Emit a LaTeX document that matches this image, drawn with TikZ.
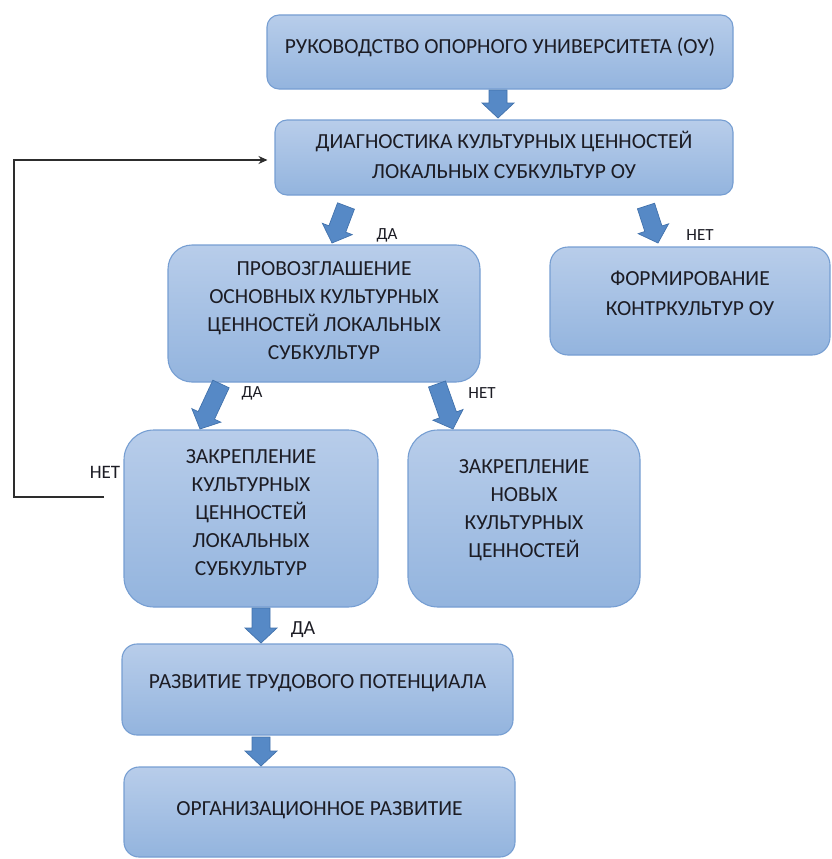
\documentclass[tikz,border=0pt]{standalone}
\usepackage{fontspec}
\setmainfont{Carlito}
\usetikzlibrary{calc,arrows.meta}
\definecolor{boxtop}{RGB}{184,205,234}
\definecolor{boxbot}{RGB}{147,180,222}
\definecolor{boxline}{RGB}{118,158,210}
\definecolor{arrfill}{RGB}{86,137,198}
\definecolor{arrline}{RGB}{66,114,172}
\definecolor{txt}{RGB}{28,28,36}
\definecolor{fbline}{RGB}{45,45,45}
\newcommand\mytxt[2]{\raisebox{#1}[\height][\depth]{\begin{tabular}{@{}c@{}}#2\end{tabular}}}
\newcommand\bluearrow[2]{%
  \coordinate (bah) at ($(#2)!15pt!(#1)$);
  \filldraw[blockarrow] ($(#1)!9pt!90:(#2)$) -- ($(bah)!9pt!-90:(#1)$) -- ($(bah)!16pt!-90:(#1)$) -- (#2) -- ($(bah)!16pt!90:(#1)$) -- ($(bah)!9pt!90:(#1)$) -- ($(#1)!9pt!-90:(#2)$) -- cycle;}
\tikzset{
  box/.style={draw=boxline, line width=1.1pt, top color=boxtop, bottom color=boxbot,
    inner sep=0pt, text=txt, font=\fontsize{21.5}{28}\selectfont},
  blockarrow/.style={fill=arrfill, draw=arrline, line width=0.7pt, line join=miter},
  lbl/.style={inner sep=0pt, text=txt, font=\fontsize{17}{20}\selectfont},
  fb/.style={draw=fbline, line width=1.3pt, -{Stealth[length=9pt,width=8pt]}}
}
\begin{document}
\begin{tikzpicture}[x=1pt,y=-1pt]
\useasboundingbox (0,0) rectangle (831,859);
% boxes
\node[box, minimum width=466pt, minimum height=74pt, rounded corners=12pt] (b1) at (500,52)
  {\mytxt{4pt}{РУКОВОДСТВО ОПОРНОГО УНИВЕРСИТЕТА (ОУ)}};
\node[box, minimum width=458pt, minimum height=75pt, rounded corners=12pt] (b2) at (504,157.5)
  {\mytxt{0pt}{ДИАГНОСТИКА КУЛЬТУРНЫХ ЦЕННОСТЕЙ\\[2pt] ЛОКАЛЬНЫХ СУБКУЛЬТУР ОУ}};
\node[box, minimum width=312pt, minimum height=137pt, rounded corners=24pt] (b3) at (324,313.5)
  {\mytxt{2pt}{ПРОВОЗГЛАШЕНИЕ\\ ОСНОВНЫХ КУЛЬТУРНЫХ\\ ЦЕННОСТЕЙ ЛОКАЛЬНЫХ\\ СУБКУЛЬТУР}};
\node[box, minimum width=280pt, minimum height=108pt, rounded corners=18pt] (b6) at (690,301)
  {\mytxt{6pt}{ФОРМИРОВАНИЕ\\[2pt] КОНТРКУЛЬТУР ОУ}};
\node[box, minimum width=254pt, minimum height=177pt, rounded corners=30pt] (b4) at (251,518.5)
  {\mytxt{4.5pt}{ЗАКРЕПЛЕНИЕ\\ КУЛЬТУРНЫХ\\ ЦЕННОСТЕЙ\\ ЛОКАЛЬНЫХ\\ СУБКУЛЬТУР}};
\node[box, minimum width=232pt, minimum height=177pt, rounded corners=30pt] (b5) at (524,518.5)
  {\mytxt{9pt}{ЗАКРЕПЛЕНИЕ\\ НОВЫХ\\ КУЛЬТУРНЫХ\\ ЦЕННОСТЕЙ}};
\node[box, minimum width=391pt, minimum height=91pt, rounded corners=15pt] (b7) at (317.5,689.5)
  {\mytxt{6.5pt}{РАЗВИТИЕ ТРУДОВОГО ПОТЕНЦИАЛА}};
\node[box, minimum width=391pt, minimum height=90pt, rounded corners=15pt] (b8) at (319.5,812)
  {\mytxt{2pt}{ОРГАНИЗАЦИОННОЕ РАЗВИТИЕ}};
% arrow end points
\coordinate (a1s) at (498,90);  \coordinate (a1e) at (498,118);
\coordinate (a2s) at (346,206); \coordinate (a2e) at (332,243);
\coordinate (a3s) at (646,206); \coordinate (a3e) at (658,243);
\coordinate (a4s) at (221,384); \coordinate (a4e) at (200,429);
\coordinate (a5s) at (437,384); \coordinate (a5e) at (453,429);
\coordinate (a6s) at (261,608); \coordinate (a6e) at (261,643);
\coordinate (a7s) at (261,737); \coordinate (a7e) at (261,766);
\bluearrow{a1s}{a1e}
\bluearrow{a2s}{a2e}
\bluearrow{a3s}{a3e}
\bluearrow{a4s}{a4e}
\bluearrow{a5s}{a5e}
\bluearrow{a6s}{a6e}
\bluearrow{a7s}{a7e}
% feedback loop
\coordinate (fbs) at (104,497);
\coordinate (fbc) at (14,497);
\draw[fb] (fbs) -- (fbc) |- ([xshift=-7pt,yshift=-2.5pt]b2.west);
% labels
\node[lbl] (l1) at (387,235) {ДА};
\node[lbl] (l2) at (700,235) {НЕТ};
\node[lbl] (l3) at (252,393) {ДА};
\node[lbl] (l4) at (482,393) {НЕТ};
\node[lbl, font=\fontsize{19}{22}\selectfont] (l5) at (105,472) {НЕТ};
\node[lbl, font=\fontsize{20}{24}\selectfont] (l6) at (303,630) {ДА};
\end{tikzpicture}
\end{document}
